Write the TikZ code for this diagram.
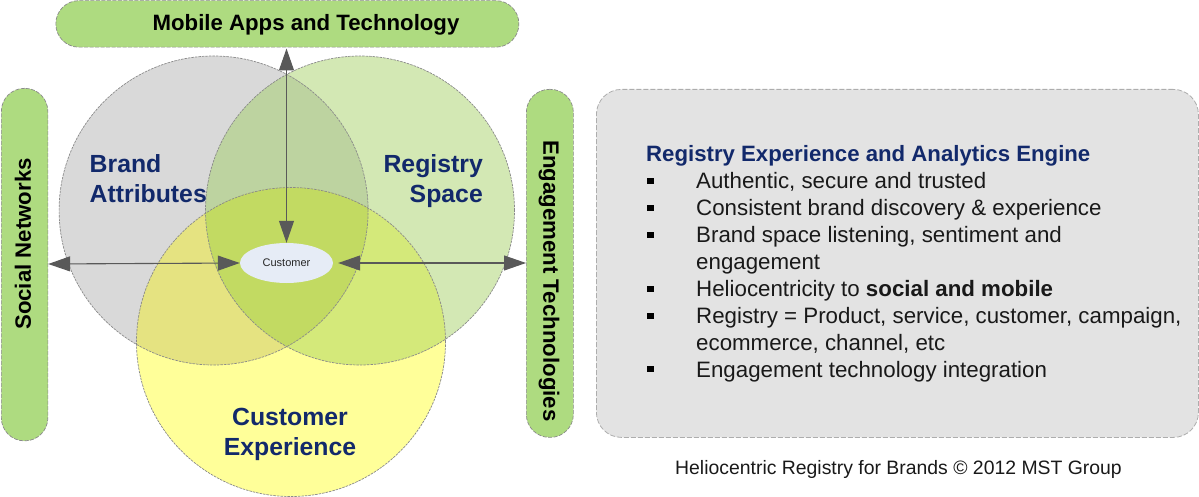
\documentclass[tikz,border=0pt]{standalone}
\usepackage{fontspec}
\setmainfont{Liberation Sans}
\usetikzlibrary{arrows.meta,shapes.geometric}
\definecolor{navy}{HTML}{12296B}
\definecolor{pillgreen}{HTML}{AEDB80}
\definecolor{edge}{HTML}{8A8A8A}
\definecolor{arrowgrey}{HTML}{595959}
\definecolor{cbrand}{HTML}{D9D9D9}
\definecolor{creg}{HTML}{D3E8B4}
\definecolor{cexp}{HTML}{FFFF99}
\definecolor{cbr}{HTML}{BDD3A0}
\definecolor{cbe}{HTML}{E5E381}
\definecolor{cre}{HTML}{D4E97A}
\definecolor{call}{HTML}{C2DA62}
\definecolor{cell}{HTML}{E6ECF6}
\tikzset{
  x=1pt,y=-1pt,
  venn/.style={circle,draw=edge,line width=0.7pt,dash pattern=on 2.5pt off 1pt,minimum size=309pt,inner sep=0pt},
  pill/.style={draw=edge,line width=0.7pt,dash pattern=on 4pt off 1.5pt,fill=pillgreen,inner sep=0pt,rounded corners=23pt},
  panel/.style={draw=edge!70,line width=0.8pt,dash pattern=on 5pt off 2pt,fill=black!11,inner sep=0pt,rounded corners=25pt,minimum width=602pt,minimum height=348pt},
  pilltext/.style={font=\fontsize{22.2}{24}\selectfont\bfseries,text=black,inner sep=0pt},
  venntext/.style={font=\fontsize{24.8}{30}\selectfont\bfseries,text=navy,inner sep=0pt},
  itemtext/.style={font=\fontsize{22.3}{24}\selectfont,text=black!90,inner sep=0pt,anchor=base west},
  squarebullet/.style={fill=black,minimum size=6.5pt,inner sep=0pt,anchor=center},
  link/.style={draw=arrowgrey,line width=1.1pt,{Triangle[length=22pt,width=15pt,fill=arrowgrey]}-{Triangle[length=22pt,width=15pt,fill=arrowgrey]}},
}
\begin{document}
\begin{tikzpicture}
\useasboundingbox (0,0) rectangle (1199,497);
% circle fills
\fill[cbrand] (213.6,210.5) circle[radius=154.5];
\fill[creg] (360,210.5) circle[radius=154.5];
\fill[cexp] (291,342) circle[radius=154.5];
\begin{scope}
  \clip (213.6,210.5) circle[radius=154.5];
  \fill[cbr] (360,210.5) circle[radius=154.5];
  \fill[cbe] (291,342) circle[radius=154.5];
\end{scope}
\begin{scope}
  \clip (360,210.5) circle[radius=154.5];
  \fill[cre] (291,342) circle[radius=154.5];
  \clip (213.6,210.5) circle[radius=154.5];
  \fill[call] (291,342) circle[radius=154.5];
\end{scope}
\node[venn] (brandc) at (213.6,210.5) {};
\node[venn] (registry) at (360,210.5) {};
\node[venn] (experience) at (291,342) {};
% pills
\node[pill,minimum width=463pt,minimum height=46.5pt,anchor=north west] (mobile) at (55.5,0.3) {};
\node[pill,minimum width=46.5pt,minimum height=352.5pt,anchor=north west] (social) at (1,88) {};
\node[pill,minimum width=47pt,minimum height=348pt,anchor=north west] (engage) at (526,89) {};
\node[panel,anchor=north west] (info) at (596,89) {};
% customer
\node[ellipse,fill=cell,minimum width=93pt,minimum height=40pt,inner sep=0pt,font=\fontsize{11}{13}\selectfont,text=black!85] (customer) at (286.5,263) {Customer};
% links
\path[link] (mobile.south -| customer.north) ++(0,1) -- (customer.north);
\path[link] (social.east |- customer.west) ++(0,1) -- (customer.west);
\path[link,shorten <=5pt] (customer.east) -- (engage.west |- customer.east);
% texts
\node[pilltext] (mobiletext) at (306,24.5) {Mobile Apps and Technology};
\node[pilltext,rotate=90] (socialtext) at (23,244) {Social Networks};
\node[pilltext,rotate=-90] (engagetext) at (549,281) {Engagement Technologies};
\node[venntext,anchor=base west] (brandtext) at (89.5,173) {Brand};
\node[venntext,anchor=base west] (attrtext) at (89.5,203) {Attributes};
\node[venntext,anchor=base east] (regtext) at (483,173) {Registry};
\node[venntext,anchor=base east] (spacetext) at (483,203) {Space};
\node[venntext,anchor=base] (custtext) at (290,425) {Customer};
\node[venntext,anchor=base] (exptext) at (290,455) {Experience};
% panel text
\node[itemtext,font=\fontsize{22.2}{24}\selectfont\bfseries,text=navy] (title) at (646,162) {Registry Experience and Analytics Engine};
\node[itemtext] (i1) at (696,188.5) {Authentic, secure and trusted};
\node[itemtext] (i2) at (696,215.5) {Consistent brand discovery \& experience};
\node[itemtext] (i3) at (696,242.5) {Brand space listening, sentiment and};
\node[itemtext] (i3b) at (696,269) {engagement};
\node[itemtext] (i4) at (696,296.5) {Heliocentricity to \textbf{social and mobile}};
\node[itemtext] (i5) at (696,323.5) {Registry = Product, service, customer, campaign,};
\node[itemtext] (i5b) at (696,350) {ecommerce, channel, etc};
\node[itemtext] (i6) at (696,377) {Engagement technology integration};
\foreach \y/\n in {181/a,208/b,235/c,289/d,316/e,369/f}
  \node[squarebullet] (bullet\n) at (650.5,\y) {};
\node[inner sep=0pt,anchor=base,font=\fontsize{19.4}{22}\selectfont,text=black!90] (caption) at (898.5,474) {Heliocentric Registry for Brands © 2012 MST Group};
\end{tikzpicture}
\end{document}
